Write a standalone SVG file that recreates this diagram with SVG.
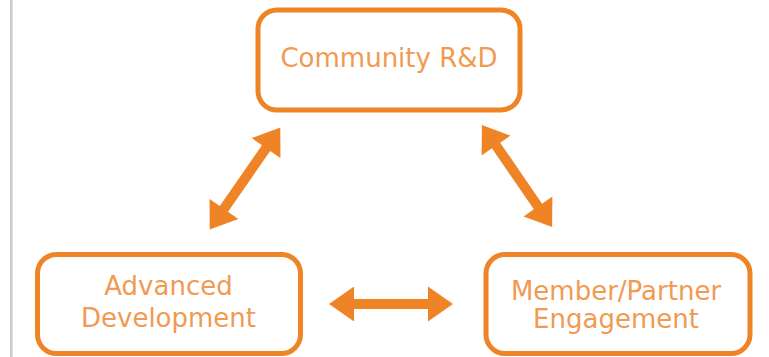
<svg xmlns="http://www.w3.org/2000/svg" xmlns:xlink="http://www.w3.org/1999/xlink" width="769" height="357" viewBox="0 0 769 357">
  <style>
    .box { fill: #ffffff; stroke: #EF8427; stroke-width: 5; }
    .lbl { font-family: "DejaVu Sans", Verdana, sans-serif; font-size: 26px; fill: #F19A52; text-anchor: middle; }
    .arrow { fill: #EF8427; }
  </style>
  <defs>
    <path id="dbl" d="M-62,0 L-37,-17.5 L-37,-5 L37,-5 L37,-17.5 L62,0 L37,17.5 L37,5 L-37,5 L-37,17.5 Z"/>
  </defs>
  <rect x="0" y="0" width="769" height="357" fill="#ffffff"/>
  <rect x="10" y="0" width="2.6" height="357" fill="#CBCBCB"/>

  <g id="connectors" class="arrow">
    <use xlink:href="#dbl" href="#dbl" transform="translate(245,178.5) rotate(-55.3)"/>
    <use xlink:href="#dbl" href="#dbl" transform="translate(517,176) rotate(55.5)"/>
    <use xlink:href="#dbl" href="#dbl" transform="translate(391,304)"/>
  </g>

  <g id="community-rd">
    <rect class="box" x="258" y="10" width="262" height="100" rx="19" ry="19"/>
    <text class="lbl" x="389" y="67">Community R&amp;D</text>
  </g>

  <g id="advanced-development">
    <rect class="box" x="37.5" y="254.5" width="263" height="99" rx="19" ry="19"/>
    <text class="lbl" x="168.5" y="295">Advanced</text>
    <text class="lbl" x="168.5" y="327">Development</text>
  </g>

  <g id="member-partner-engagement">
    <rect class="box" x="486" y="254.5" width="264" height="99" rx="19" ry="19"/>
    <text class="lbl" x="616" y="300">Member/Partner</text>
    <text class="lbl" x="616" y="328">Engagement</text>
  </g>
</svg>
